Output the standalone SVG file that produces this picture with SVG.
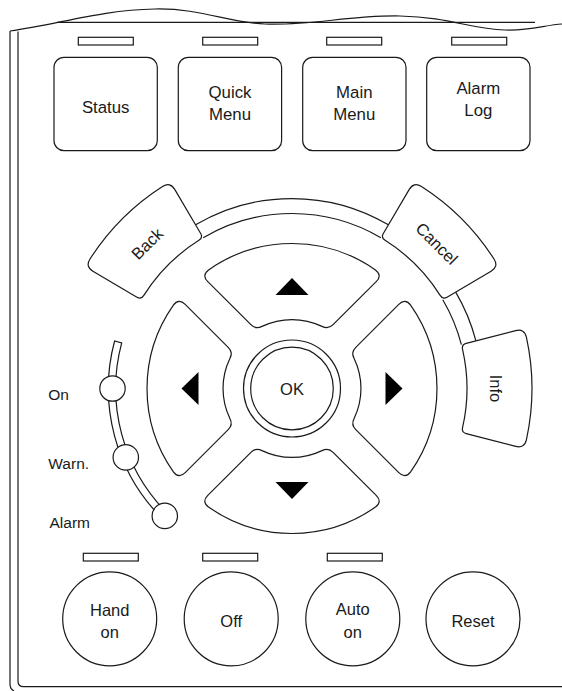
<svg xmlns="http://www.w3.org/2000/svg" xmlns:xlink="http://www.w3.org/1999/xlink" width="562" height="691" viewBox="0 0 562 691">
<style>
.ln{fill:none;stroke:#1a1a1a;stroke-width:1.2}
.sh{fill:#fff;stroke:#1a1a1a;stroke-width:1.2}
.led{fill:#fff;stroke:#1a1a1a;stroke-width:1.2}
.ar{fill:#000;stroke:none}
text{font-family:"Liberation Sans",Arial,sans-serif;fill:#1a1a1a;font-size:16.5px;text-anchor:middle}
.top{font-size:16.8px}
.lbl{font-size:15.5px;text-anchor:start}
</style>
<defs>
<path id="key" d="M -84.2,-106.8 Q -90.6,-113.2 -83.4,-118.6 A 145 145 0 0 1 83.4,-118.6 Q 90.6,-113.2 84.2,-106.8 L 41.1,-63.8 Q 36.2,-58.8 30.0,-62.1 A 69 69 0 0 0 -30.0,-62.1 Q -36.2,-58.8 -41.1,-63.8 Z"/>
<path id="arrow" d="M -16.5,-93.5 L 0,-110.5 L 16.5,-93.5 Z"/>
<path id="sector" d="M -57.85,-223.7 Q -60.1,-232.4 -51.3,-234.4 A 240 240 0 0 1 51.3,-234.4 Q 60.1,-232.4 57.85,-223.7 L 45.05,-174.2 Q 43.8,-169.4 38.95,-170.6 A 175 175 0 0 0 -38.95,-170.6 Q -43.8,-169.4 -45.05,-174.2 Z"/>
</defs>

<g id="frame">
<path class="ln" d="M 10,31 C 60,24 100,10 155,9 C 200,8 230,23 265,24 C 310,26 350,15 400,16 C 450,17 470,29 505,30 C 530,31 545,25 562,24"/>
<path class="ln" d="M 57,22.3 H 535"/>
<path class="ln" d="M 10,31 V 684 Q 10,689 14,691"/>
<path class="ln" d="M 18,31.5 V 681 Q 18,686.7 23.5,686.7 H 562"/>
</g>

<g id="status">
<rect class="led" x="78.3" y="37.3" width="55" height="7.7"/>
<rect class="sh" x="54" y="57.3" width="103.3" height="93.4" rx="10"/>
<text class="top" x="105.7" y="113">Status</text>
</g>
<g id="quick-menu">
<rect class="led" x="202.7" y="37.3" width="55" height="7.7"/>
<rect class="sh" x="178.3" y="57.3" width="103.3" height="93.4" rx="10"/>
<text class="top" x="230" y="98">Quick</text>
<text class="top" x="230" y="120">Menu</text>
</g>
<g id="main-menu">
<rect class="led" x="326.7" y="37.3" width="55" height="7.7"/>
<rect class="sh" x="302.7" y="57.3" width="103.3" height="93.4" rx="10"/>
<text class="top" x="354.3" y="98">Main</text>
<text class="top" x="354.3" y="120">Menu</text>
</g>
<g id="alarm-log">
<rect class="led" x="451.7" y="37.3" width="55" height="7.7"/>
<rect class="sh" x="426.7" y="57.3" width="103.3" height="93.4" rx="10"/>
<text class="top" x="478.3" y="94">Alarm</text>
<text class="top" x="478.3" y="116">Log</text>
</g>

<g id="connectors" transform="translate(292,388.5)">
<path class="ln" d="M -96.4,-163.7 A 190 190 0 0 1 96.4,-163.7"/>
<path class="ln" d="M 163.7,-96.4 A 190 190 0 0 1 183.9,-47.6"/>
<path class="ln" d="M -88.8,-150.8 A 175 175 0 0 1 88.8,-150.8"/>
<path class="ln" d="M 150.8,-88.8 A 175 175 0 0 1 169.4,-43.8"/>
</g>

<g id="back" transform="translate(292,388.5) rotate(-45)">
<use xlink:href="#sector" class="sh"/>
<text x="0" y="-205" dominant-baseline="central">Back</text>
</g>
<g id="cancel" transform="translate(292,388.5) rotate(45)">
<use xlink:href="#sector" class="sh"/>
<text x="0" y="-205" dominant-baseline="central">Cancel</text>
</g>
<g id="info" transform="translate(292,388.5) rotate(90)">
<use xlink:href="#sector" class="sh"/>
<text x="0" y="-204" dominant-baseline="central">Info</text>
</g>

<g id="up" transform="translate(292,388.5)">
<use xlink:href="#key" class="sh"/>
<use xlink:href="#arrow" class="ar"/>
</g>
<g id="right" transform="translate(292,388.5) rotate(90)">
<use xlink:href="#key" class="sh"/>
<use xlink:href="#arrow" class="ar"/>
</g>
<g id="down" transform="translate(292,388.5) rotate(180)">
<use xlink:href="#key" class="sh"/>
<use xlink:href="#arrow" class="ar"/>
</g>
<g id="left" transform="translate(292,388.5) rotate(270)">
<use xlink:href="#key" class="sh"/>
<use xlink:href="#arrow" class="ar"/>
</g>

<g id="ok">
<circle class="sh" cx="292" cy="388.5" r="48.5"/>
<circle class="sh" cx="292" cy="388.5" r="41.3"/>
<text x="292" y="395">OK</text>
</g>

<g id="led-track">
<path class="sh" d="M 114.6,341 A 183.7 183.7 0 0 0 162.1,518.4 L 167.3,513.2 A 176.3 176.3 0 0 1 121.7,342.9 Z"/>
</g>
<g id="led-on">
<circle class="sh" cx="112.5" cy="388.5" r="12.7"/>
<text class="lbl" x="48.3" y="400">On</text>
</g>
<g id="led-warn">
<circle class="sh" cx="125.8" cy="457.4" r="12.7"/>
<text class="lbl" x="48.3" y="469">Warn.</text>
</g>
<g id="led-alarm">
<circle class="sh" cx="164.8" cy="515.9" r="12.7"/>
<text class="lbl" x="49.5" y="528">Alarm</text>
</g>

<g id="hand-on">
<rect class="led" x="83.3" y="553.3" width="55" height="7.7"/>
<circle class="sh" cx="109.7" cy="618.8" r="47"/>
<text x="109.7" y="616">Hand</text>
<text x="109.7" y="638">on</text>
</g>
<g id="off">
<rect class="led" x="202.7" y="553.3" width="55" height="7.7"/>
<circle class="sh" cx="231.2" cy="618.8" r="47"/>
<text x="231.2" y="627">Off</text>
</g>
<g id="auto-on">
<rect class="led" x="327.3" y="553.3" width="55" height="7.7"/>
<circle class="sh" cx="352.8" cy="618.8" r="47"/>
<text x="352.8" y="615">Auto</text>
<text x="352.8" y="638">on</text>
</g>
<g id="reset">
<circle class="sh" cx="473" cy="618.8" r="47"/>
<text x="473" y="627">Reset</text>
</g>
</svg>
